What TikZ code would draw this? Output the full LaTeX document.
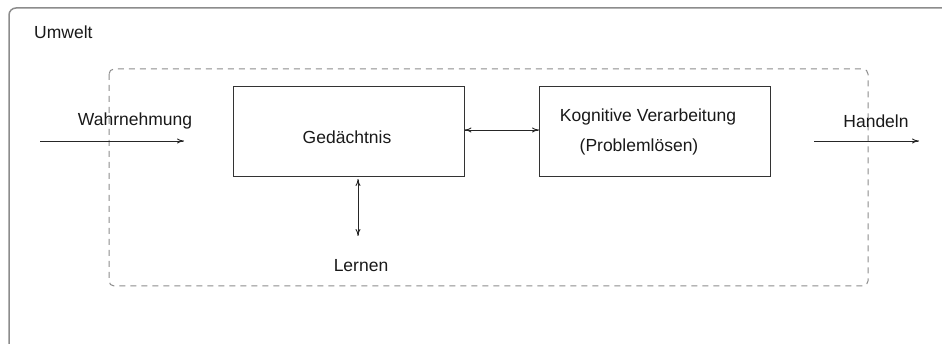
\documentclass[tikz,border=0pt]{standalone}
\usepackage{fontspec}
\setmainfont{Liberation Sans}
\usetikzlibrary{arrows.meta}
\begin{document}
\begin{tikzpicture}[x=1pt,y=-1pt,
  lbl/.style={inner sep=0pt,font=\fontsize{17.5}{20}\selectfont,text=black!90},
  blk/.style={draw=black!80,line width=1pt,minimum width=231pt,minimum height=90pt,inner sep=0pt},
  conn/.style={line width=0.9pt,draw=black!85,-{To[length=7pt,width=5pt]}},
  dconn/.style={line width=0.9pt,draw=black!85,{To[length=7pt,width=5pt]}-{To[length=7pt,width=5pt]}}]
\useasboundingbox (0,0) rectangle (942,344);
% outer frame
\draw[black!45,line width=1.5pt,rounded corners=7pt] (9,344) -- (9,8) -- (950,8);
% dashed system boundary
\draw[black!45,line width=1pt,dash pattern=on 6pt off 5pt,rounded corners=5pt] (109,69) rectangle (868,286);
\node[lbl,anchor=west] (umwelt) at (34,32) {Umwelt};
\node[blk] (ged) at (348.5,132) {};
\node[lbl] (gedt) at (347,137) {Gedächtnis};
\node[blk] (kog) at (655,132) {};
\node[lbl] (kog1) at (648,117) {Kognitive Verarbeitung};
\node[lbl] (kog2) at (639,147) {(Problemlösen)};
\node[lbl] (lernen) at (361,266) {Lernen};
\node[lbl] (wahr) at (135,121) {Wahrnehmung};
\node[lbl] (hand) at (876,121) {Handeln};
\coordinate (win) at (40,141);
\coordinate (wout) at (184,141);
\coordinate (hin) at (814,141);
\coordinate (hout) at (919,141);
\coordinate (lt) at (358,179);
\coordinate (lb) at (358,236);
\draw[conn] (win) -- (wout);
\draw[conn] (hin) -- (hout);
\draw[dconn] (ged.east |- 0,130) -- (kog.west |- 0,130);
\draw[dconn] (lt) -- (lb);
\end{tikzpicture}
\end{document}
